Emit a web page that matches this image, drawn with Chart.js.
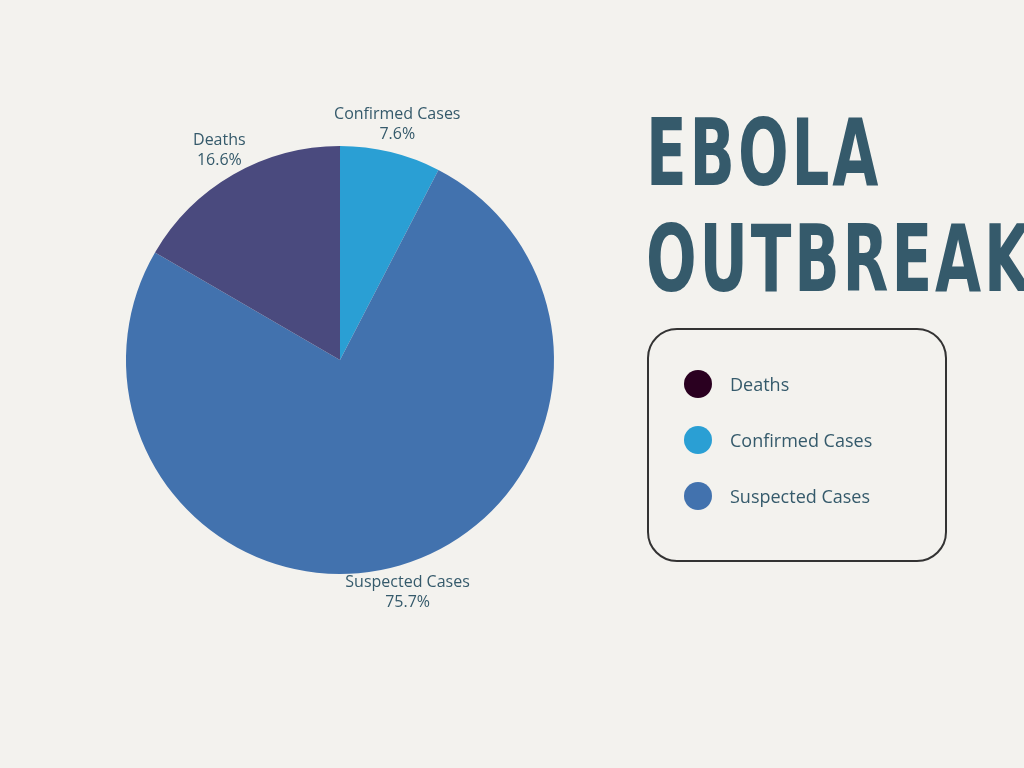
<!DOCTYPE html>
<html><head><meta charset="utf-8">
<script src="https://cdn.jsdelivr.net/npm/chart.js@4"></script>
<style>
body{margin:0;width:1024px;height:768px;background:#f3f2ee;position:relative;overflow:hidden;font-family:"Open Sans",sans-serif;}
#wrap{position:absolute;left:0;top:0;width:680px;height:720px;}
.title{position:absolute;left:646px;color:#355a6b;font-family:"DejaVu Sans Condensed","DejaVu Sans";font-weight:bold;font-size:92px;line-height:1;letter-spacing:4px;transform-origin:left top;transform:scaleX(0.72);white-space:nowrap;}
#legend{position:absolute;left:647px;top:328px;width:296px;height:230px;border:2px solid #333;border-radius:30px;}
.li{position:absolute;left:35px;font-size:18px;color:#355a6b;display:flex;align-items:center;}
.dot{width:28px;height:28px;border-radius:50%;margin-right:18px;}
</style></head><body>
<div id="wrap"><canvas id="c"></canvas></div>
<div class="title" style="top:108px">EBOLA</div>
<div class="title" style="top:214px">OUTBREAK</div>
<div id="legend"></div>
<script>
const categories=["Confirmed Cases","Suspected Cases","Deaths"];
const values=[7.6,75.7,16.6];
const colors=["#2a9fd4","#4272ae","#4a4a7e"];
const legendOrder=["Deaths","Confirmed Cases","Suspected Cases"];
const legendColors=["#2a0020","#2a9fd4","#4272ae"];
const lg=document.getElementById('legend');
legendOrder.forEach((n,i)=>{const d=document.createElement('div');d.className='li';d.style.top=(40+i*56)+'px';d.innerHTML='<span class="dot" style="background:'+legendColors[i]+'"></span>'+n;lg.appendChild(d);});
const labelPlugin={id:'lbl',afterDatasetsDraw(chart){const ctx=chart.ctx;const meta=chart.getDatasetMeta(0);ctx.save();ctx.font='16px "Open Sans"';ctx.fillStyle='#355a6b';ctx.textAlign='center';ctx.textBaseline='middle';
meta.data.forEach((a,i)=>{const m=(a.startAngle+a.endAngle)/2;const r=a.outerRadius+28;const x=a.x+Math.cos(m)*r,y=a.y+Math.sin(m)*r;ctx.fillText(categories[i],x,y-10);ctx.fillText(values[i].toFixed(1)+'%',x,y+10);});ctx.restore();}};
new Chart(document.getElementById('c'),{type:'pie',data:{labels:categories,datasets:[{data:values,backgroundColor:colors,borderWidth:0}]},
options:{responsive:true,maintainAspectRatio:false,animation:false,layout:{padding:126},plugins:{legend:{display:false},tooltip:{enabled:false}}},plugins:[labelPlugin]});
</script></body></html>
